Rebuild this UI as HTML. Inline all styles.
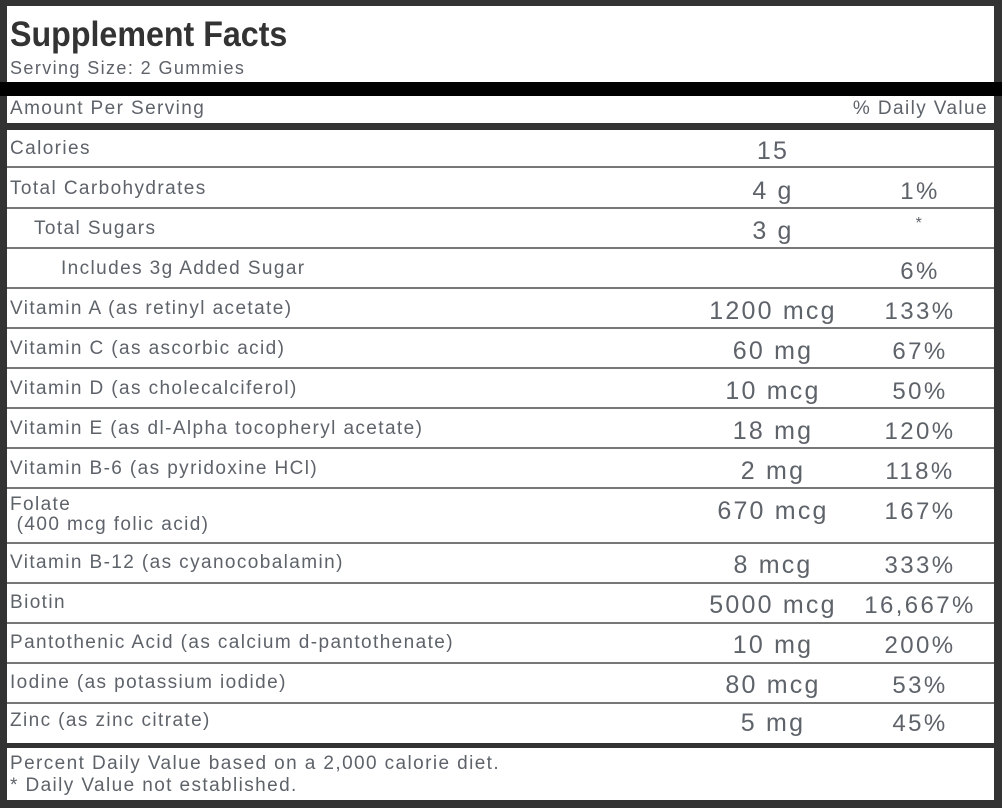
<!DOCTYPE html>
<html><head><style>
body{margin:0;width:1002px;height:808px;background:#333;position:relative;overflow:hidden;font-family:"Liberation Sans",sans-serif;color:#5e636a}
.w{position:absolute;background:#fff;left:7px;width:987px}
.t{position:absolute;white-space:nowrap;font-size:19px;line-height:20px;letter-spacing:1.4px}
.a{position:absolute;white-space:nowrap;font-size:25px;text-align:center;width:200px;left:673px;letter-spacing:2.2px}
.d{position:absolute;white-space:nowrap;font-size:24px;text-align:center;width:160px;left:840px;letter-spacing:2.4px}
.g{position:absolute;left:7px;width:987px;height:2px;background:#777}
</style></head><body>
<div class="w" style="top:6px;height:76px"></div>
<div style="position:absolute;left:0;top:82px;width:1002px;height:14px;background:#000"></div>
<div class="w" style="top:96px;height:27px"></div>
<div class="w" style="top:130px;height:613px"></div>
<div class="w" style="top:748px;height:52px"></div>
<div class="t" style="left:10px;top:16px;font-size:35px;line-height:38px;font-weight:bold;color:#333;letter-spacing:0;transform:scaleX(0.92);transform-origin:left">Supplement Facts</div>
<div class="t" style="left:10px;top:58px;font-size:18px">Serving Size: 2 Gummies</div>
<div class="t" style="left:10px;top:99px">Amount Per Serving</div>
<div class="t" style="right:14px;top:99px">% Daily Value</div>

<div class="g" style="top:166px"></div><div class="g" style="top:207px"></div><div class="g" style="top:247px"></div><div class="g" style="top:287px"></div><div class="g" style="top:327px"></div><div class="g" style="top:367px"></div><div class="g" style="top:407px"></div><div class="g" style="top:447px"></div><div class="g" style="top:487px"></div><div class="g" style="top:542px"></div><div class="g" style="top:582px"></div><div class="g" style="top:622px"></div><div class="g" style="top:662px"></div><div class="g" style="top:702px"></div>

<div class="t" style="left:10px;top:139px">Calories</div><div class="a" style="top:137px">15</div>
<div class="t" style="left:10px;top:179px">Total Carbohydrates</div><div class="a" style="top:177px">4 g</div><div class="d" style="top:178px">1%</div>
<div class="t" style="left:34px;top:219px">Total Sugars</div><div class="a" style="top:217px">3 g</div><div class="d" style="top:215px;font-size:16px">*</div>
<div class="t" style="left:61px;top:259px">Includes 3g Added Sugar</div><div class="d" style="top:258px">6%</div>
<div class="t" style="left:10px;top:299px">Vitamin A (as retinyl acetate)</div><div class="a" style="top:297px">1200 mcg</div><div class="d" style="top:298px">133%</div>
<div class="t" style="left:10px;top:339px">Vitamin C (as ascorbic acid)</div><div class="a" style="top:337px">60 mg</div><div class="d" style="top:338px">67%</div>
<div class="t" style="left:10px;top:379px">Vitamin D (as cholecalciferol)</div><div class="a" style="top:377px">10 mcg</div><div class="d" style="top:378px">50%</div>
<div class="t" style="left:10px;top:419px">Vitamin E (as dl-Alpha tocopheryl acetate)</div><div class="a" style="top:417px">18 mg</div><div class="d" style="top:418px">120%</div>
<div class="t" style="left:10px;top:459px">Vitamin B-6 (as pyridoxine HCl)</div><div class="a" style="top:457px">2 mg</div><div class="d" style="top:458px">118%</div>
<div class="t" style="left:10px;top:495px">Folate<br>&nbsp;(400 mcg folic acid)</div><div class="a" style="top:497px">670 mcg</div><div class="d" style="top:498px">167%</div>
<div class="t" style="left:10px;top:553px">Vitamin B-12 (as cyanocobalamin)</div><div class="a" style="top:551px">8 mcg</div><div class="d" style="top:552px">333%</div>
<div class="t" style="left:10px;top:593px">Biotin</div><div class="a" style="top:591px">5000 mcg</div><div class="d" style="top:592px">16,667%</div>
<div class="t" style="left:10px;top:633px">Pantothenic Acid (as calcium d-pantothenate)</div><div class="a" style="top:631px">10 mg</div><div class="d" style="top:632px">200%</div>
<div class="t" style="left:10px;top:673px">Iodine (as potassium iodide)</div><div class="a" style="top:671px">80 mcg</div><div class="d" style="top:672px">53%</div>
<div class="t" style="left:10px;top:711px">Zinc (as zinc citrate)</div><div class="a" style="top:709px">5 mg</div><div class="d" style="top:710px">45%</div>
<div class="t" style="left:10px;top:753px;line-height:22px">Percent Daily Value based on a 2,000 calorie diet.<br>* Daily Value not established.</div>
</body></html>
